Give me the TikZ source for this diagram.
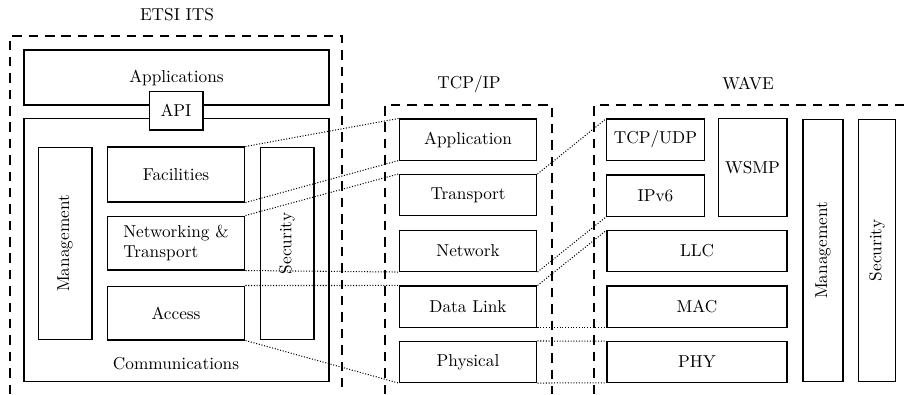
\documentclass[tikz,border=0pt]{standalone}
\usepackage{tikz}
\usetikzlibrary{positioning}

\begin{document}
\begin{tikzpicture}[
    x=0.58pt, y=-0.58pt,
    box/.style={rectangle, draw, line width=0.6pt, inner sep=2pt, align=center},
    vbox/.style={box, rotate=90},
    frame/.style={line width=0.6pt, dash pattern=on 5.5pt off 4pt},
    link/.style={line width=0.6pt, densely dotted},
    title/.style={inner sep=0pt}
]
  \useasboundingbox (0,0) rectangle (905,394);

  % ETSI ITS
  \node[title] (etsititle) at (177,15) {ETSI ITS};
  \draw[frame] (10,394) -- (10,36) -- (342,36) -- (342,394);
  \node[box, minimum width=176.9pt, minimum height=31.9pt] (apps) at (176.5,77.5) {Applications};
  \node[box, minimum width=176.9pt, minimum height=152pt] (comm) at (176.5,250) {};
  \node[title] (commlbl) at (176,364) {Communications};
  \node[box, fill=white, minimum width=31.3pt, minimum height=22.6pt] (api) at (176,110.5) {API};
  \node[vbox, minimum width=111.9pt, minimum height=31.3pt] (emgmt) at (65,243.5) {Management};
  \node[vbox, minimum width=111.9pt, minimum height=31.3pt] (esec) at (287,243.5) {Security};
  \node[box, minimum width=80pt, minimum height=31.9pt] (fac) at (176,174.5) {Facilities};
  \node[box, align=left, minimum width=80pt, minimum height=31.3pt] (nettr) at (176,243) {Networking \&\\Transport};
  \node[box, minimum width=80pt, minimum height=31.3pt] (acc) at (176,313) {Access};

  % TCP/IP
  \node[title] (tcpiptitle) at (469,84) {TCP/IP};
  \draw[frame] (385,394) -- (385,105) -- (552,105) -- (552,394);
  \node[box, minimum width=80pt, minimum height=23.8pt] (appl) at (468,139.5) {Application};
  \node[box, minimum width=80pt, minimum height=23.8pt] (trans) at (468,195) {Transport};
  \node[box, minimum width=80pt, minimum height=23.8pt] (net) at (468,251) {Network};
  \node[box, minimum width=80pt, minimum height=23.8pt] (dlink) at (468,306.5) {Data Link};
  \node[box, minimum width=80pt, minimum height=23.8pt] (phys) at (468,362) {Physical};

  % WAVE
  \node[title] (wavetitle) at (748,84) {WAVE};
  \draw[frame] (594,394) -- (594,105) -- (905,105);
  \node[box, minimum width=56.3pt, minimum height=23.8pt] (tcpudp) at (655.5,139.5) {TCP/UDP};
  \node[box, minimum width=56.3pt, minimum height=23.8pt] (ipv6) at (655.5,195.5) {IPv6};
  \node[box, minimum width=40pt, minimum height=56.3pt] (wsmp) at (752.5,167.5) {WSMP};
  \node[box, minimum width=104.4pt, minimum height=23.5pt] (llc) at (697,251) {LLC};
  \node[box, minimum width=104.4pt, minimum height=23.8pt] (mac) at (697,306.5) {MAC};
  \node[box, minimum width=104.4pt, minimum height=23.5pt] (phy) at (697,362) {PHY};
  \node[vbox, minimum width=152.5pt, minimum height=23.2pt] (wmgmt) at (823,250.5) {Management};
  \node[vbox, minimum width=152.5pt, minimum height=22pt] (wsec) at (877,250.5) {Security};

  % mappings
  \draw[link] (fac.north east) -- (appl.north west);
  \draw[link] (fac.south east) -- (appl.south west);
  \draw[link] (nettr.north east) -- (trans.north west);
  \draw[link] (nettr.south east) -- (net.south west);
  \draw[link] (acc.north east) -- (dlink.north west);
  \draw[link] (acc.south east) -- (phys.south west);
  \draw[link] (trans.north east) -- (tcpudp.north west);
  \draw[link] (net.south east) -- (ipv6.south west);
  \draw[link] (dlink.north east) -- (llc.north west);
  \draw[link] (dlink.south east) -- (mac.south west);
  \draw[link] (phys.north east) -- (phy.north west);
  \draw[link] (phys.south east) -- (phy.south west);
\end{tikzpicture}
\end{document}
